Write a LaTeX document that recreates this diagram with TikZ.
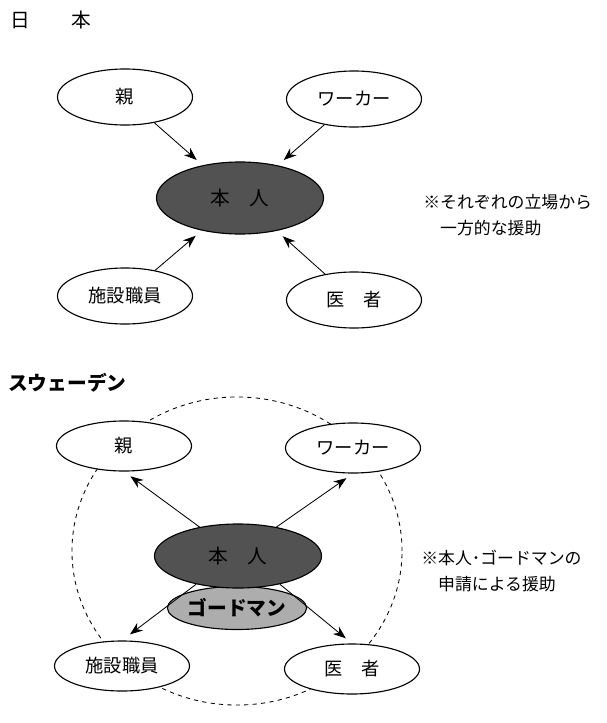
\documentclass[tikz,border=0pt]{standalone}
\usepackage{fontspec}
\setmainfont{Noto Sans CJK JP}
\usepackage{tikz}
\usetikzlibrary{arrows.meta,shapes.geometric}

\begin{document}
\begin{tikzpicture}[
x=0.025cm, y=-0.025cm,
person/.style={
    ellipse,
    draw,
    line width=0.8pt,
    fill=white,
    minimum width=3.375cm,
    minimum height=1.4cm,
    inner sep=0pt,
    font=\fontsize{13}{15}\selectfont
},
self/.style={person, fill=black!68, minimum width=4.175cm, minimum height=1.8cm, font=\fontsize{14}{16}\selectfont},
proxy/.style={person, fill=black!32, minimum width=3.025cm, minimum height=1.075cm, font=\fontsize{14}{16}\selectfont\bfseries},
ring/.style={ellipse, draw, dashed, line width=0.6pt, minimum width=8.25cm, minimum height=7.7cm},
heading/.style={anchor=west, inner sep=0pt, font=\fontsize{14}{16}\selectfont},
note/.style={anchor=west, align=left, inner sep=0pt, font=\fontsize{12}{19}\selectfont},
arr/.style={-{Stealth[length=3.2mm,width=2.4mm]}, line width=0.6pt}
]
\useasboundingbox (0,0) rectangle (606,723);

% Japan
\node[heading] (titleJ) at (10,20) {日\hspace{2.1em}本};
\node[person] (parentJ) at (125,97) {親};
\node[person] (workerJ) at (354,99) {ワーカー};
\node[self] (selfJ) at (240,198) {本\hspace{1em}人};
\node[person] (staffJ) at (125,296) {施設職員};
\node[person] (doctorJ) at (354,300) {医\hspace{1em}者};
\node[note] (noteJ) at (423,215) {※それぞれの立場から\\\phantom{※}一方的な援助};

\draw[arr, shorten >=2mm] (parentJ) -- (selfJ);
\draw[arr, shorten >=2mm] (workerJ) -- (selfJ);
\draw[arr, shorten >=2mm] (staffJ) -- (selfJ);
\draw[arr, shorten >=2mm] (doctorJ) -- (selfJ);

% Sweden
\node[heading, font=\fontsize{14}{16}\selectfont\bfseries] (titleS) at (8,383) {スウェーデン};
\node[ring] (circleS) at (237,551) {};
\node[person, minimum height=1.25cm] (parentS) at (124,446) {親};
\node[person, minimum height=1.25cm] (workerS) at (353,448) {ワーカー};
\node[person, minimum height=1.25cm] (staffS) at (122,666) {施設職員};
\node[person, minimum height=1.25cm] (doctorS) at (352,669) {医\hspace{1em}者};
\node[proxy] (godmanS) at (237,608) {ゴードマン};
\node[self, minimum height=1.6cm] (selfS) at (238,556) {本\hspace{1em}人};
\node[note, font=\fontsize{12}{18}\selectfont] (noteS) at (421,571) {※本人･ゴードマンの\\\phantom{※}申請による援助};

\draw[arr, shorten >=2mm] (selfS.143) -- (parentS.south);
\draw[arr, shorten >=2mm] (selfS.37) -- (workerS.south);
\draw[arr, shorten >=2.5mm] (selfS.214) -- (staffS.north);
\draw[arr, shorten >=2mm] (selfS.326) -- (doctorS.north);
\end{tikzpicture}
\end{document}
